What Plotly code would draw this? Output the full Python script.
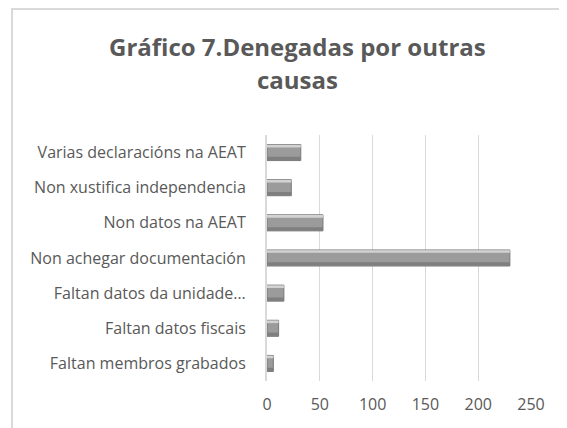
import plotly.graph_objects as go

categories = [
    "Varias declaracións na AEAT",
    "Non xustifica independencia",
    "Non datos na AEAT",
    "Non achegar documentación",
    "Faltan datos da unidade…",
    "Faltan datos fiscais",
    "Faltan membros grabados",
]
values = [32, 23, 53, 230, 16, 11, 6]
x_ticks = [0, 50, 100, 150, 200, 250]
title_lines = ["Gráfico 7.Denegadas por outras", "causas"]

# page body adds an 8px offset; figure coords = reference coords - 8
W, H = 559, 420
L, R, T, B = 259, 36, 127, 47
pw, ph = W - L - R, H - T - B

def px(x):
    return (x - 8 - L) / pw

def py(y):
    return (H - B - (y - 8)) / ph

fig = go.Figure()
# main bar body
fig.add_trace(go.Bar(
    y=categories, x=values, orientation="h",
    marker=dict(color="#9b9b9b", line=dict(color="#7a7a7a", width=1)),
    width=0.456,
))
# top bevel highlight
fig.add_trace(go.Bar(
    y=categories, x=values, orientation="h",
    marker=dict(color="#d2d2d2", line=dict(width=0)),
    width=0.075, offset=-0.222, hoverinfo="skip",
))
# bottom shade
fig.add_trace(go.Bar(
    y=categories, x=values, orientation="h",
    marker=dict(color="#7f7f7f", line=dict(width=0)),
    width=0.1, offset=0.122, hoverinfo="skip",
))

annotations = []
for i, line in enumerate(title_lines):
    annotations.append(dict(
        text="<b>%s</b>" % line, xref="paper", yref="paper",
        x=px(297), y=py(46 + 33 * i), xanchor="center", yanchor="middle",
        showarrow=False,
        font=dict(family="Open Sans", size=24, color="#595959"),
    ))

fig.update_layout(
    width=W, height=H,
    margin=dict(l=L, r=R, t=T, b=B, autoexpand=False),
    paper_bgcolor="white", plot_bgcolor="white",
    showlegend=False, barmode="overlay",
    font=dict(family="Open Sans", color="#595959"),
    annotations=annotations,
    shapes=[dict(type="rect", xref="paper", yref="paper",
                 x0=px(12), x1=px(600), y0=py(460), y1=py(9),
                 line=dict(color="#d9d9d9", width=2), layer="below")],
)
fig.update_xaxes(
    range=[0, 250], tickvals=x_ticks, showgrid=True, gridcolor="#d9d9d9",
    gridwidth=1, zeroline=False, showline=False,
    tickfont=dict(size=16, color="#595959"), ticklabelstandoff=12,
)
fig.update_yaxes(
    autorange="reversed", showline=True, linecolor="#d9d9d9", linewidth=2,
    tickfont=dict(size=16, color="#595959"), ticks="", ticklabelstandoff=16,
)

fig.write_html("out.html")
